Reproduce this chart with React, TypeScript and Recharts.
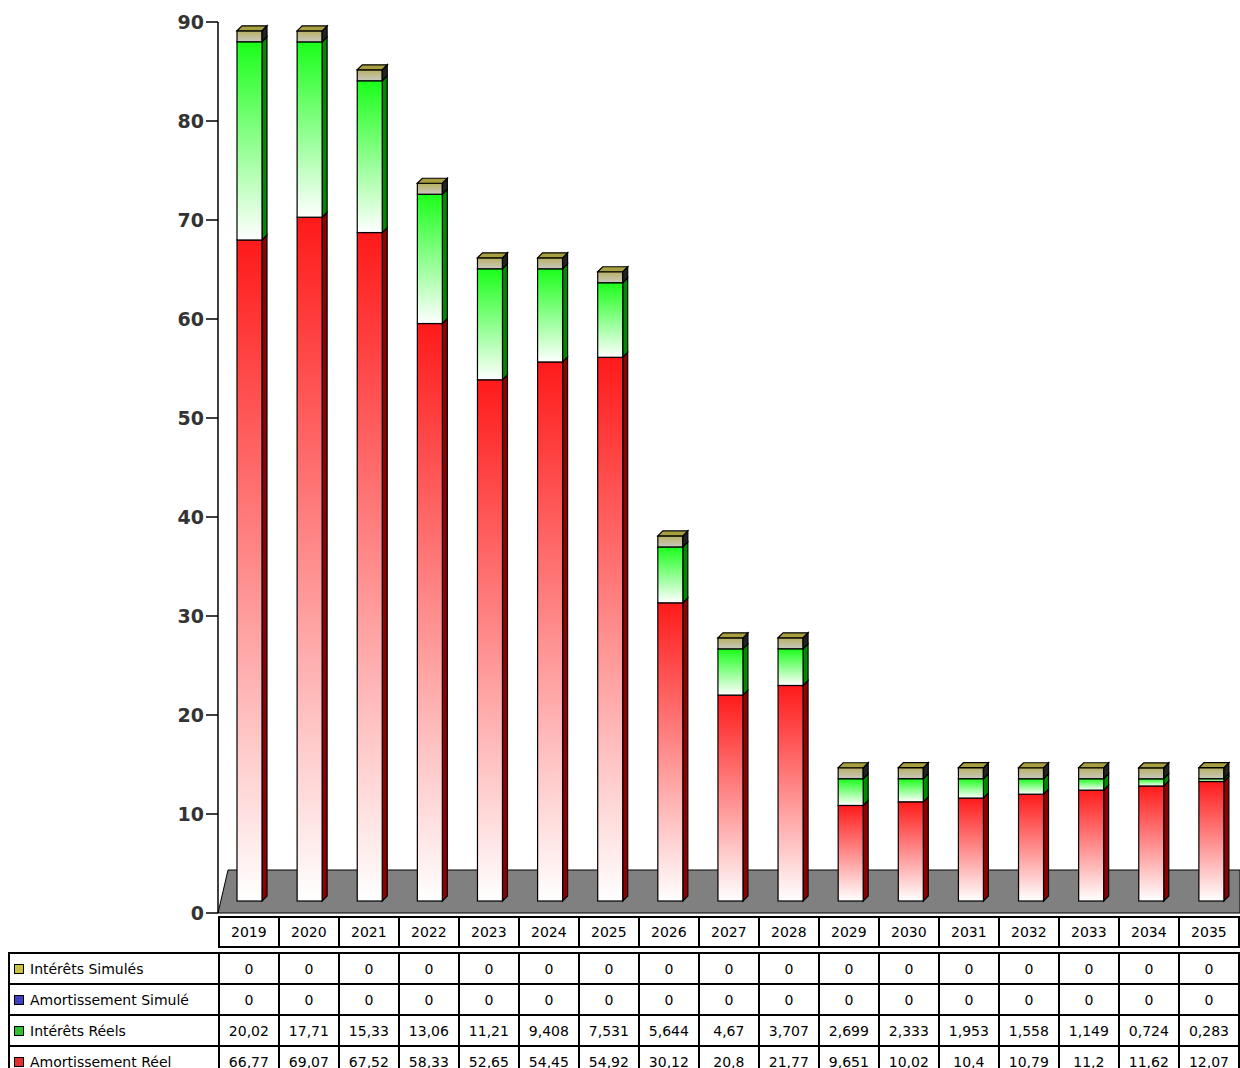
import React from 'react';
import { BarChart, Bar, XAxis, YAxis } from 'recharts';

const years = ['2019', '2020', '2021', '2022', '2023', '2024', '2025', '2026', '2027', '2028', '2029', '2030', '2031', '2032', '2033', '2034', '2035'];
const interetsSimules = [0, 0, 0, 0, 0, 0, 0, 0, 0, 0, 0, 0, 0, 0, 0, 0, 0];
const amortSimule = [0, 0, 0, 0, 0, 0, 0, 0, 0, 0, 0, 0, 0, 0, 0, 0, 0];
const interetsReels = [20.02, 17.71, 15.33, 13.06, 11.21, 9.408, 7.531, 5.644, 4.67, 3.707, 2.699, 2.333, 1.953, 1.558, 1.149, 0.724, 0.283];
const amortReel = [66.77, 69.07, 67.52, 58.33, 52.65, 54.45, 54.92, 30.12, 20.8, 21.77, 9.651, 10.02, 10.4, 10.79, 11.2, 11.62, 12.07];
const yTicks = [0, 10, 20, 30, 40, 50, 60, 70, 80, 90];

const data = years.map((y, i) => ({
    year: y,
    amortReel: amortReel[i],
    interetsReels: interetsReels[i],
}));

const fmt = (v: number) => String(v).replace('.', ',');

const LIFT = 12;
const D = 5;

const make3D = (grad: string, side: string, cap: boolean) => (props: any) => {
    const { x, y, width, height } = props;
    const fx = x + 1;
    const fy = y - LIFT;
    return (
        <g stroke="#000" strokeWidth={1.2}>
            <polygon points={`${fx + width},${fy} ${fx + width + D},${fy - D} ${fx + width + D},${fy + height - D} ${fx + width},${fy + height}`} fill={side} />
            <rect x={fx} y={fy} width={width} height={height} fill={`url(#${grad})`} />
            {cap && (
                <g>
                    <rect x={fx} y={fy - 11} width={width} height={11} fill="url(#gCap)" />
                    <polygon points={`${fx + width},${fy - 11} ${fx + width + D},${fy - 11 - D} ${fx + width + D},${fy - D} ${fx + width},${fy}`} fill="#222" />
                    <polygon points={`${fx},${fy - 11} ${fx + D},${fy - 11 - D} ${fx + width + D},${fy - 11 - D} ${fx + width},${fy - 11}`} fill="#a8a040" />
                </g>
            )}
        </g>
    );
};

const legendColors = ['#c8c040', '#4040c0', '#30c030', '#e03030'];
const rows = [
    { label: 'Intérêts Simulés', values: interetsSimules },
    { label: 'Amortissement Simulé', values: amortSimule },
    { label: 'Intérêts Réels', values: interetsReels },
    { label: 'Amortissement Réel', values: amortReel },
];

const PLOT_LEFT = 218;
const COL = (1240 - PLOT_LEFT) / years.length;

export default function App() {
    return (
        <div style={{ position: 'absolute', left: 0, top: 0, width: 1240, height: 1068, overflow: 'hidden', background: '#fff', fontFamily: 'Verdana, "DejaVu Sans", sans-serif' }}>
            <svg width={1240} height={915} style={{ position: 'absolute', left: 0, top: 0 }}>
                <polygon points={`${PLOT_LEFT},913 ${PLOT_LEFT + 10},870 1240,870 1240,913`} fill="#808080" stroke="#000" strokeWidth={1} />
            </svg>
            <table style={{ position: 'absolute', left: 8, top: 916, borderCollapse: 'collapse', fontSize: 14, fontFamily: '"DejaVu Sans", sans-serif', tableLayout: 'fixed' }}>
                <colgroup>
                    <col style={{ width: PLOT_LEFT - 8 }} />
                    {years.map((y) => <col key={y} style={{ width: COL }} />)}
                </colgroup>
                <tbody>
                    <tr style={{ height: 30 }}>
                        <td style={{ border: 'none' }} />
                        {years.map((y) => (
                            <td key={y} style={{ border: '2px solid #000', textAlign: 'center', padding: 0 }}>{y}</td>
                        ))}
                    </tr>
                    <tr style={{ height: 6 }}><td colSpan={18} style={{ padding: 0 }} /></tr>
                    {rows.map((r, ri) => (
                        <tr key={r.label} style={{ height: 31 }}>
                            <td style={{ border: '2px solid #000', padding: '0 4px', whiteSpace: 'nowrap' }}>
                                <span style={{ display: 'inline-block', width: 8, height: 8, border: '1px solid #000', background: legendColors[ri], marginRight: 6 }} />
                                {r.label}
                            </td>
                            {r.values.map((v, i) => (
                                <td key={i} style={{ border: '2px solid #000', textAlign: 'center', padding: 0 }}>{fmt(v)}</td>
                            ))}
                        </tr>
                    ))}
                </tbody>
            </table>
            <div style={{ position: 'absolute', left: 0, top: 0, pointerEvents: 'none' }}>
                <BarChart width={1240} height={928} data={data} margin={{ top: 22, right: 0, left: 0, bottom: 15 }} barSize={25}>
                    <defs>
                        <linearGradient id="gRed" x1="0" y1="0" x2="0" y2="1">
                            <stop offset="0%" stopColor="#ff1a1a" />
                            <stop offset="100%" stopColor="#ffffff" />
                        </linearGradient>
                        <linearGradient id="gGreen" x1="0" y1="0" x2="0" y2="1">
                            <stop offset="0%" stopColor="#1aff1a" />
                            <stop offset="100%" stopColor="#ffffff" />
                        </linearGradient>
                        <linearGradient id="gCap" x1="0" y1="0" x2="0" y2="1">
                            <stop offset="0%" stopColor="#b8b060" />
                            <stop offset="100%" stopColor="#c8c8c0" />
                        </linearGradient>
                    </defs>
                    <XAxis dataKey="year" hide />
                    <YAxis
                        width={PLOT_LEFT}
                        domain={[0, 90]}
                        ticks={yTicks}
                        interval={0}
                        axisLine={{ stroke: '#000', strokeWidth: 1.5 }}
                        tickLine={{ stroke: '#000', strokeWidth: 1.5 }}
                        tickSize={12}
                        tick={{ fill: '#333', fontSize: 19, fontWeight: 'bold', fontFamily: '"DejaVu Sans", sans-serif' }}
                    />
                    <Bar dataKey="amortReel" stackId="a" isAnimationActive={false} shape={make3D('gRed', '#900000', false)} />
                    <Bar dataKey="interetsReels" stackId="a" isAnimationActive={false} shape={make3D('gGreen', '#008a00', true)} />
                </BarChart>
            </div>
        </div>
    );
}
